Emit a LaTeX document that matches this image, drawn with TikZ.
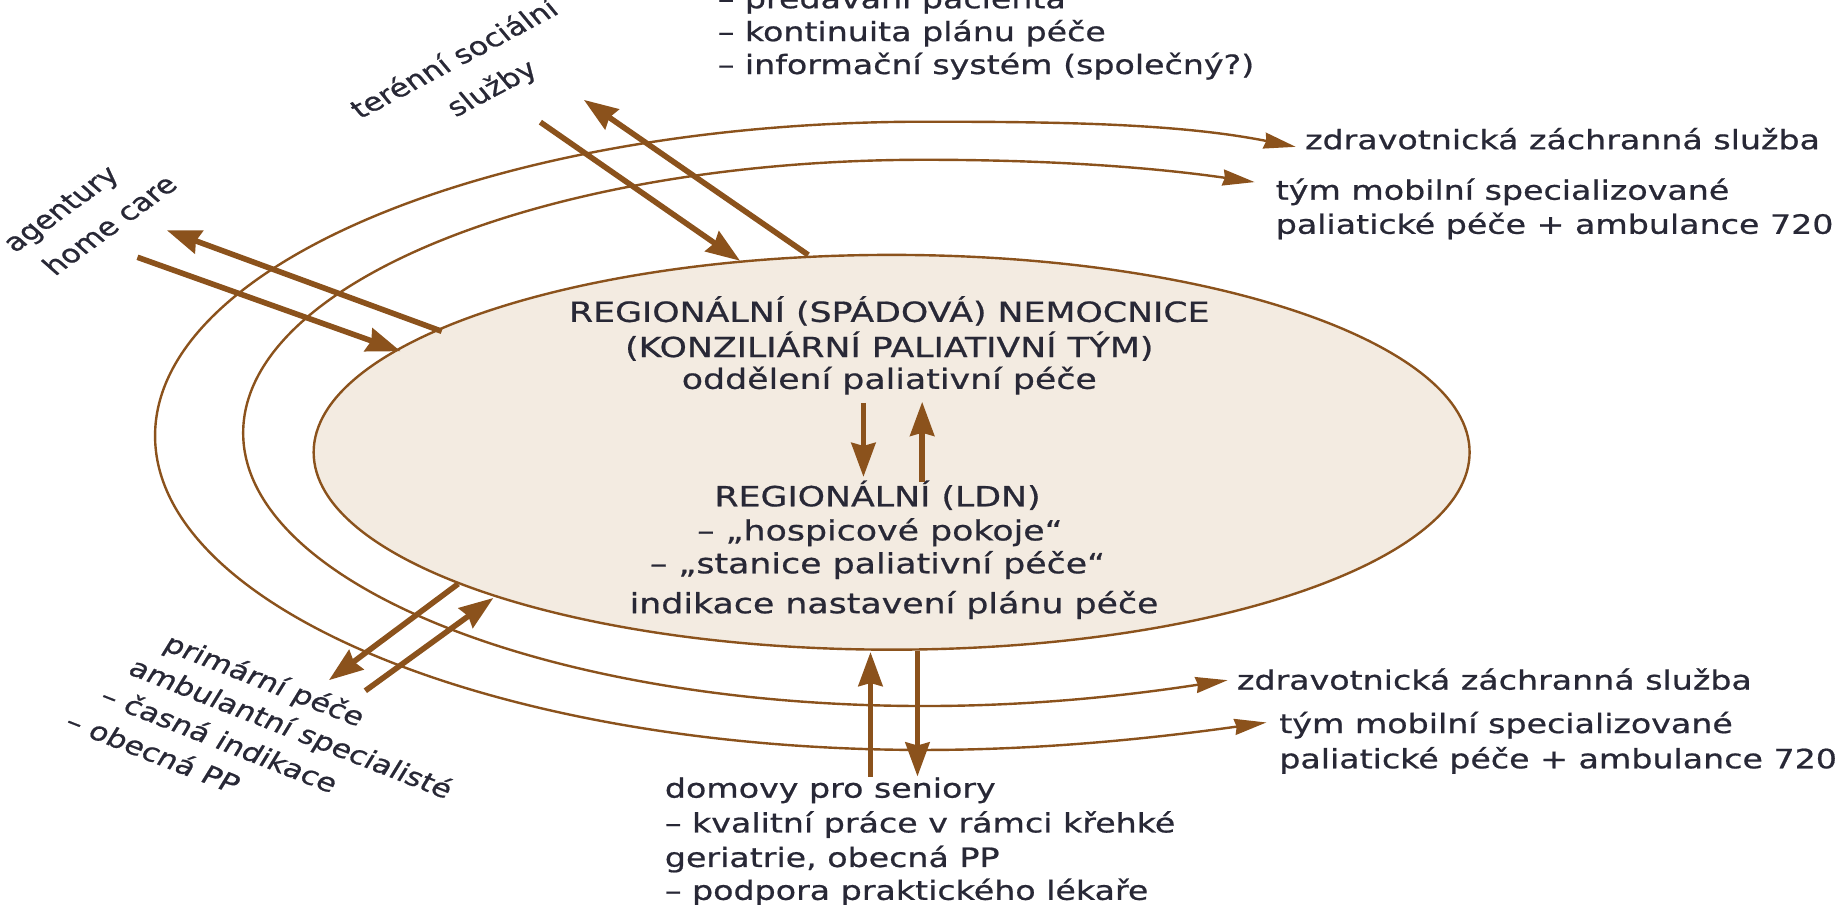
\documentclass[tikz,border=0pt]{standalone}
\usepackage{fontspec}
\setmainfont{DejaVu Sans}[FakeStretch=1.25,FakeBold=0.7]
\newfontfamily\rotfont{DejaVu Sans}[FakeBold=0.7]
\usetikzlibrary{arrows.meta,shapes.geometric}
\definecolor{brownline}{RGB}{139,82,28}
\definecolor{ellfill}{RGB}{243,235,225}
\definecolor{txt}{RGB}{40,40,54}
\begin{document}
\begin{tikzpicture}[x=0.5874pt, y=0.5874pt,
  txtnode/.style={text=txt, inner sep=0pt, outer sep=0pt, anchor=base west, font=\fontsize{13.3}{17}\selectfont},
  ctr/.style={text=txt, inner sep=0pt, outer sep=0pt, anchor=base, font=\fontsize{13.9}{17}\selectfont},
  rot/.style={text=txt, inner sep=0pt, outer sep=0pt, anchor=base west, font=\rotfont\fontsize{12.6}{15}\selectfont},
  arcline/.style={draw=brownline, line width=1.2pt, {Stealth[length=16pt,width=8pt,inset=1pt]}-{Stealth[length=16pt,width=8pt,inset=1pt]}},
  fatarrow/.style={draw=brownline, line width=2.8pt, -{Stealth[length=17pt,width=12pt,inset=1.5pt]}}
]
\useasboundingbox (0,0) rectangle (1568,-770);
\fill[white] (0,0) rectangle (1568,-770);

% outer connectors (arcs)
\coordinate (arcAtop) at (1103,-125);
\coordinate (arcAbot) at (1078,-615);
\coordinate (arcBtop) at (1068,-155);
\coordinate (arcBbot) at (1045,-579);
\draw[arcline] (arcAtop) .. controls (1003,-105) and (900,-103.6) .. (787,-103.6)
  arc[start angle=90,end angle=270,x radius=655,y radius=267.4]
  .. controls (890,-638.4) and (985,-628) .. (arcAbot);
\draw[arcline] (arcBtop) .. controls (978,-142) and (890,-136) .. (787,-136)
  arc[start angle=90,end angle=270,x radius=580,y radius=232.5]
  .. controls (880,-601) and (960,-592) .. (arcBbot);

% main ellipse
\node[ellipse, draw=brownline, line width=1.2pt, fill=ellfill, inner sep=0pt, outer sep=0pt,
  minimum width=578pt, minimum height=197.4pt] (hosp) at (759,-385) {};

% texts in ellipse
\node[ctr] (h1) at (757,-274) {REGIONÁLNÍ (SPÁDOVÁ) NEMOCNICE};
\node[ctr] (h2) at (757,-304) {(KONZILIÁRNÍ PALIATIVNÍ TÝM)};
\node[ctr] (h3) at (757,-331) {oddělení paliativní péče};
\node[ctr] (l1) at (747,-431) {REGIONÁLNÍ (LDN)};
\node[ctr] (l2) at (749,-460) {– „hospicové pokoje“};
\node[ctr] (l3) at (747,-488) {– „stanice paliativní péče“};
\node[ctr] (l4) at (761,-522) {indikace nastavení plánu péče};

% top text
\node[txtnode] (top1) at (611,-7) {– předávání pacienta};
\node[txtnode] (top2) at (611,-35) {– kontinuita plánu péče};
\node[txtnode] (top3) at (611,-63) {– informační systém (společný?)};

% right texts
\node[txtnode] (zzs1) at (1111,-127) {zdravotnická záchranná služba};
\node[txtnode] (tym1a) at (1086,-170) {tým mobilní specializované};
\node[txtnode] (tym1b) at (1086,-199) {paliatické péče + ambulance 720};
\node[txtnode] (zzs2) at (1053,-587) {zdravotnická záchranná služba};
\node[txtnode] (tym2a) at (1089,-624) {tým mobilní specializované};
\node[txtnode] (tym2b) at (1089,-654) {paliatické péče + ambulance 720};

% bottom text
\node[txtnode] (dom1) at (566,-679) {domovy pro seniory};
\node[txtnode] (dom2) at (566,-708.6) {– kvalitní práce v rámci křehké};
\node[txtnode] (dom3) at (566,-738) {geriatrie, obecná PP};
\node[txtnode] (dom4) at (566,-766) {– podpora praktického lékaře};

% rotated labels
\node[rot, cm={1.041,0.553,-0.691,0.833,(0,0)}] (ter1) at (306.5,-101.6) {terénní sociální};
\node[rot, cm={1.041,0.553,-0.691,0.833,(0,0)}] (ter2) at (388,-100) {služby};
\node[rot, cm={0.926,0.672,-0.840,0.741,(0,0)}] (ag1) at (12.8,-215.7) {agentury};
\node[rot, cm={0.926,0.672,-0.840,0.741,(0,0)}] (ag2) at (46.8,-235.5) {home care};
\node[rot, cm={1.121,-0.442,0.552,0.897,(0,0)}] (pr1) at (137.6,-552.8) {primární péče};
\node[rot, cm={1.121,-0.442,0.552,0.897,(0,0)}] (pr2) at (107.8,-573.2) {ambulantní specialisté};
\node[rot, cm={1.121,-0.442,0.552,0.897,(0,0)}] (pr3) at (83.7,-597.3) {– časná indikace};
\node[rot, cm={1.121,-0.442,0.552,0.897,(0,0)}] (pr4) at (53.9,-619.1) {– obecná PP};

% thick arrows
\coordinate (t1s) at (460,-104); \coordinate (t1e) at (630,-222);
\coordinate (t2s) at (688,-217); \coordinate (t2e) at (497,-85);
\coordinate (a1s) at (117,-219); \coordinate (a1e) at (341,-299);
\coordinate (a2s) at (376,-282); \coordinate (a2e) at (142,-196);
\coordinate (c1s) at (735,-343); \coordinate (c1e) at (735,-406);
\coordinate (c2s) at (785,-410); \coordinate (c2e) at (785,-342);
\coordinate (b1s) at (741,-661); \coordinate (b1e) at (741,-555);
\coordinate (b2s) at (781,-554); \coordinate (b2e) at (781,-661);
\coordinate (p1s) at (390,-497); \coordinate (p1e) at (280,-579);
\coordinate (p2s) at (311,-588); \coordinate (p2e) at (420,-509);
\draw[fatarrow] (t1s) -- (t1e);
\draw[fatarrow] (t2s) -- (t2e);
\draw[fatarrow] (a1s) -- (a1e);
\draw[fatarrow] (a2s) -- (a2e);
\draw[fatarrow] (c1s) -- (c1e);
\draw[fatarrow] (c2s) -- (c2e);
\draw[fatarrow] (b1s) -- (b1e);
\draw[fatarrow] (b2s) -- (b2e);
\draw[fatarrow] (p1s) -- (p1e);
\draw[fatarrow] (p2s) -- (p2e);
\end{tikzpicture}
\end{document}
